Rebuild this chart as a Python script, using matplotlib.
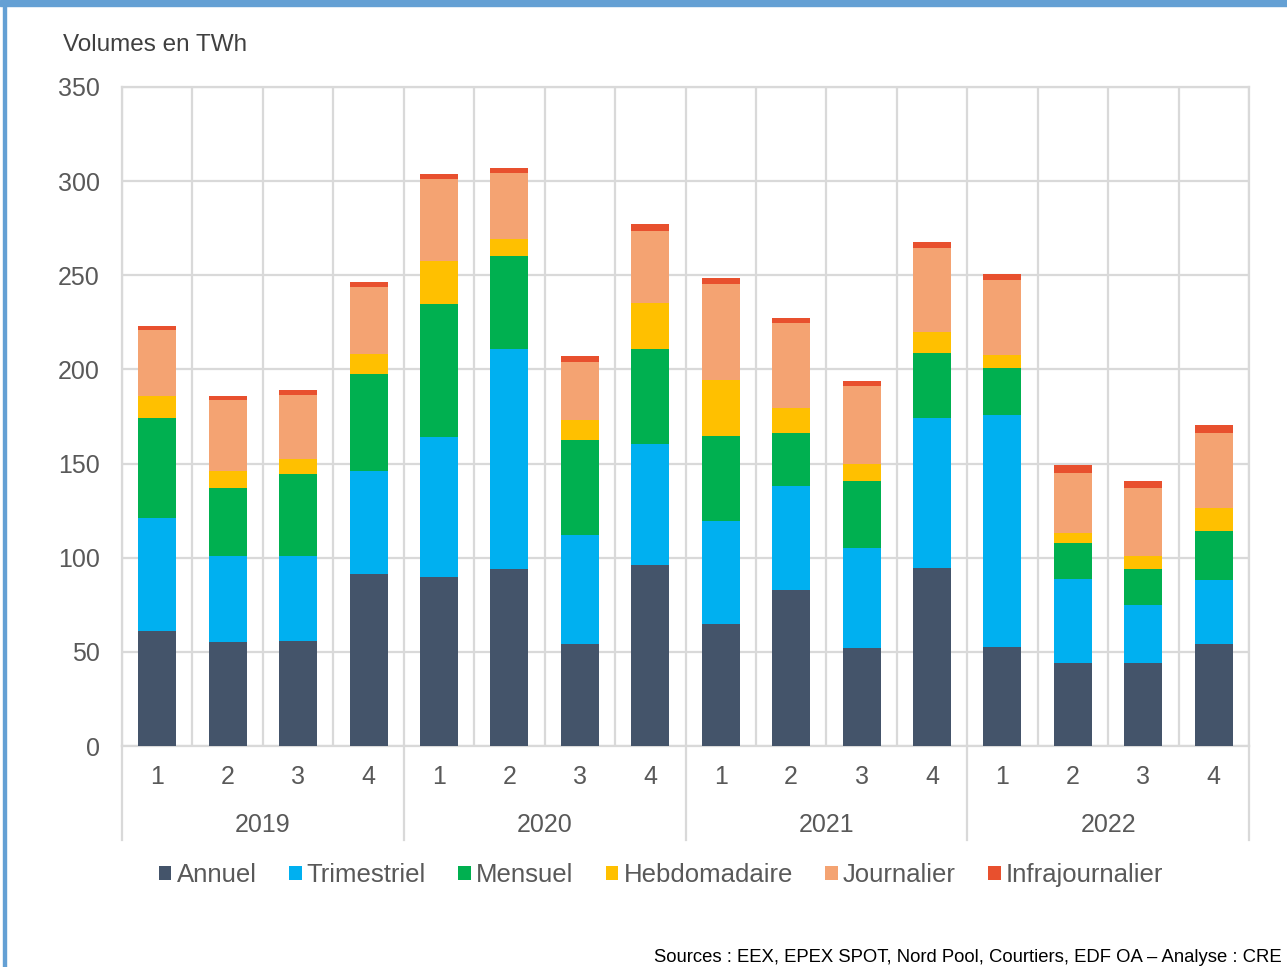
import numpy as np
import matplotlib.pyplot as plt
from matplotlib.patches import Rectangle
from matplotlib.lines import Line2D
import matplotlib.transforms as mtransforms

plt.rcParams['font.family'] = ['Liberation Sans', 'DejaVu Sans']

# data (TWh) per quarter, 2019 Q1 -> 2022 Q4
quarters = ['1', '2', '3', '4'] * 4
years = ['2019', '2020', '2021', '2022']
annuel = [61, 55, 56, 91.5, 89.5, 94, 54, 96, 65, 83, 52, 94.5, 52.5, 44, 44, 54]
trimestriel = [60, 46, 45, 54.5, 74.5, 117, 58, 64.5, 54.5, 55, 53, 79.5, 123.5, 44.5, 31, 34]
mensuel = [53, 36, 43.5, 51.5, 71, 49, 50.5, 50.5, 45, 28, 36, 34.5, 24.5, 19.5, 19, 26]
hebdo = [12, 9, 8, 10.5, 22.5, 9.5, 10.5, 24.5, 30, 13.5, 9, 11.5, 7, 5, 7, 12.5]
journalier = [35, 38, 34, 36, 43.5, 35, 31, 38, 51, 45, 41, 44.5, 40, 32, 36, 40]
infra = [2, 2, 2.5, 2.5, 3, 2.5, 3, 3.5, 3, 3, 3, 3, 3, 4, 3.5, 4]

series = [
    ('Annuel', annuel, '#44546A'),
    ('Trimestriel', trimestriel, '#00B0F0'),
    ('Mensuel', mensuel, '#00B050'),
    ('Hebdomadaire', hebdo, '#FFC000'),
    ('Journalier', journalier, '#F4A372'),
    ('Infrajournalier', infra, '#E8502E'),
]

W, H = 1287, 967
fig = plt.figure(figsize=(W / 100, H / 100), dpi=100)
ax = fig.add_axes([122 / W, (H - 746) / H, 1127 / W, 659 / H])

x = np.arange(len(annuel))
bottom = np.zeros(len(annuel))
for name, vals, col in series:
    ax.bar(x, vals, width=0.54, bottom=bottom, color=col, label=name, zorder=3)
    bottom += np.array(vals)

ax.set_xlim(-0.5, len(annuel) - 0.5)
ax.set_ylim(0, 350)
ax.set_yticks(np.arange(0, 351, 50))
ax.tick_params(axis='y', length=0, pad=16, labelsize=18, labelcolor='#595959')
ax.set_xticks(x)
ax.set_xticklabels(quarters)
ax.tick_params(axis='x', length=0, pad=14, labelsize=18, labelcolor='#595959')

grid_c = '#d9d9d9'
ax.grid(axis='y', color=grid_c, lw=1.6, zorder=0)
for b in np.arange(-0.5, len(annuel), 1.0):
    ax.axvline(b, color=grid_c, lw=1.6, zorder=0)
for s in ax.spines.values():
    s.set_color(grid_c)
    s.set_linewidth(1.6)

# year groups below the axis
trans = mtransforms.blended_transform_factory(ax.transData, ax.transAxes)
for i, yr in enumerate(years):
    ax.text(i * 4 + 1.5, -79 / 659, yr, transform=trans, ha='center', va='center',
            fontsize=18, color='#595959')
for b in [-0.5, 3.5, 7.5, 11.5, 15.5]:
    ax.add_line(Line2D([b, b], [0, -94 / 659], transform=trans, color=grid_c,
                       lw=1.6, clip_on=False))

# y-axis title
fig.text(63 / W, 1 - 45 / H, 'Volumes en TWh', fontsize=17.5, color='#404040',
         ha='left', va='center')

# legend
handles, labels = ax.get_legend_handles_labels()
leg = fig.legend(handles, labels, loc='center', bbox_to_anchor=(661 / W, 1 - 875 / H),
                 ncol=6, frameon=False, fontsize=18.5, handlelength=0.5,
                 handleheight=0.5, handletextpad=0.2, columnspacing=1.25,
                 labelcolor='#595959')

# source line
fig.text(1282 / W, 1 - 957 / H,
         'Sources : EEX, EPEX SPOT, Nord Pool, Courtiers, EDF OA \u2013 Analyse : CRE',
         fontsize=13.3, color='#000000', ha='right', va='center')

# blue frame pieces from the report page
fig.add_artist(Rectangle((0, 1 - 6 / H), 1, 6 / H, transform=fig.transFigure,
                         color='#64A0D4', zorder=10))
fig.add_artist(Rectangle((3 / W, 0), 3 / W, 1, transform=fig.transFigure,
                         color='#64A0D4', zorder=10))

fig.savefig('out.png', dpi=100)
